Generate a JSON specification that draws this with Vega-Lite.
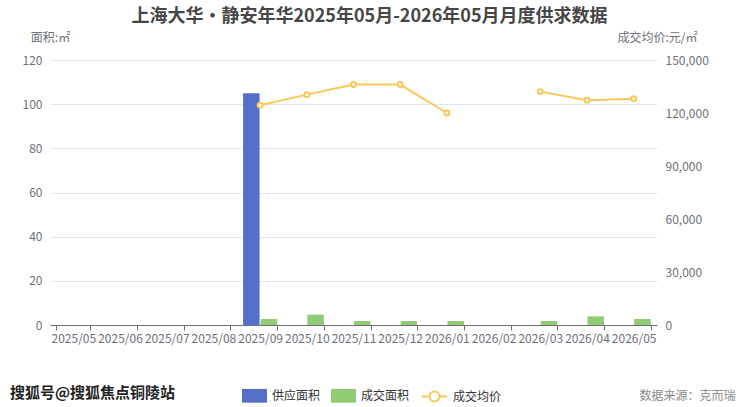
{
  "$schema": "https://vega.github.io/schema/vega-lite/v6.json",
  "width": 607,
  "height": 265,
  "autosize": {"type": "none"},
  "padding": {"left": 50, "top": 60, "right": 83, "bottom": 82},
  "background": "white",
  "title": {
    "text": "上海大华•静安年华2025年05月-2026年05月月度供求数据",
    "font": "Noto Sans CJK SC",
    "fontSize": 18,
    "fontWeight": "bold",
    "color": "#464646",
    "anchor": "middle",
    "offset": 5,
    "dx": 16
  },
  "datasets": {
    "bars": [
      {"month": "2025/09", "series": "供应面积", "area": 105},
      {"month": "2025/09", "series": "成交面积", "area": 2.7},
      {"month": "2025/10", "series": "成交面积", "area": 4.7},
      {"month": "2025/11", "series": "成交面积", "area": 1.8},
      {"month": "2025/12", "series": "成交面积", "area": 1.8},
      {"month": "2026/01", "series": "成交面积", "area": 1.8},
      {"month": "2026/03", "series": "成交面积", "area": 1.8},
      {"month": "2026/04", "series": "成交面积", "area": 3.9},
      {"month": "2026/05", "series": "成交面积", "area": 2.7}
    ],
    "price": [
      {"month": "2025/09", "price": 124400},
      {"month": "2025/10", "price": 130400},
      {"month": "2025/11", "price": 136100},
      {"month": "2025/12", "price": 136100},
      {"month": "2026/01", "price": 120000},
      {"month": "2026/02", "price": null},
      {"month": "2026/03", "price": 132100},
      {"month": "2026/04", "price": 127200},
      {"month": "2026/05", "price": 128100}
    ]
  },
  "layer": [
    {
      "data": {"name": "bars"},
      "mark": {"type": "bar"},
      "encoding": {
        "x": {
          "field": "month",
          "type": "nominal",
          "scale": {
            "domain": ["2025/05", "2025/06", "2025/07", "2025/08", "2025/09", "2025/10", "2025/11", "2025/12", "2026/01", "2026/02", "2026/03", "2026/04", "2026/05"],
            "paddingInner": 0.27,
            "paddingOuter": 0.135
          },
          "axis": {
            "labelAngle": 0,
            "labelOverlap": false,
            "labelBound": false,
            "labelFlush": false,
            "labelPadding": 3,
            "tickBand": "extent",
            "tickSize": 5,
            "grid": false,
            "title": "数据来源：克而瑞",
            "titleX": 685,
            "titleY": 70,
            "titleAlign": "right",
            "titleBaseline": "middle",
            "titleFontWeight": "normal",
            "titleFontSize": 12,
            "titleColor": "#8a8a8a"
          }
        },
        "xOffset": {
          "field": "series",
          "type": "nominal",
          "scale": {"domain": ["供应面积", "成交面积"], "paddingInner": 0.06}
        },
        "y": {
          "field": "area",
          "type": "quantitative",
          "scale": {"domain": [0, 120]},
          "axis": {
            "values": [0, 20, 40, 60, 80, 100, 120],
            "title": "面积:㎡",
            "titleAngle": 0,
            "titleX": 0,
            "titleY": -16,
            "titleAlign": "center",
            "titleBaseline": "bottom"
          }
        },
        "color": {
          "field": "series",
          "type": "nominal",
          "scale": {"domain": ["供应面积", "成交面积"], "range": ["#5470c6", "#91cc75"]},
          "legend": {
            "orient": "none",
            "direction": "horizontal",
            "legendX": -40,
            "legendY": 323,
            "title": "搜狐号@搜狐焦点铜陵站",
            "titleOrient": "left",
            "titleFontSize": 15,
            "titleFontWeight": "bold",
            "titleColor": "#222222",
            "titlePadding": 66,
            "symbolType": "M-1,-0.55L1,-0.55L1,0.55L-1,0.55Z",
            "symbolSize": 625,
            "symbolStrokeWidth": 0,
            "columnPadding": 10,
            "labelOffset": 5
          }
        }
      }
    },
    {
      "data": {"name": "price"},
      "encoding": {
        "x": {"field": "month", "type": "nominal"},
        "y": {
          "field": "price",
          "type": "quantitative",
          "scale": {"domain": [0, 150000]},
          "axis": {
            "orient": "right",
            "values": [0, 30000, 60000, 90000, 120000, 150000],
            "format": ",.0f",
            "title": "成交均价:元/㎡",
            "titleAngle": 0,
            "titleX": 0,
            "titleY": -16,
            "titleAlign": "center",
            "titleBaseline": "bottom"
          }
        }
      },
      "layer": [
        {
          "mark": {"type": "line", "strokeWidth": 2, "invalid": "break-paths-show-domains"},
          "encoding": {
            "stroke": {
              "datum": "成交均价",
              "scale": {"range": ["#fac858"]},
              "legend": {
                "orient": "none",
                "legendX": 371,
                "legendY": 323,
                "title": null,
                "symbolType": "M-1,0L-0.4,0M0.4,0L1,0M0.4,0A0.4,0.4,0,1,1,-0.4,0A0.4,0.4,0,1,1,0.4,0Z",
                "symbolSize": 625,
                "symbolStrokeWidth": 2,
                "symbolFillColor": "white",
                "labelOffset": 5
              }
            }
          }
        },
        {
          "mark": {"type": "point", "filled": true, "fill": "white", "stroke": "#fac858", "strokeWidth": 2, "size": 24, "opacity": 1}
        }
      ]
    }
  ],
  "resolve": {"scale": {"y": "independent"}},
  "config": {
    "font": "Noto Sans CJK SC",
    "view": {"stroke": null},
    "axis": {
      "labelFont": "Noto Sans CJK SC",
      "titleFont": "Noto Sans CJK SC",
      "labelFontSize": 12,
      "labelColor": "#6e7079",
      "titleFontSize": 12,
      "titleFontWeight": "normal",
      "titleColor": "#6e7079",
      "domainColor": "#6e7079",
      "tickColor": "#6e7079",
      "gridColor": "#e0e6f1"
    },
    "axisY": {"domain": false, "ticks": false, "labelPadding": 8},
    "legend": {
      "labelFont": "Noto Sans CJK SC",
      "titleFont": "Noto Sans CJK SC",
      "labelFontSize": 12,
      "labelColor": "#333333"
    }
  }
}
